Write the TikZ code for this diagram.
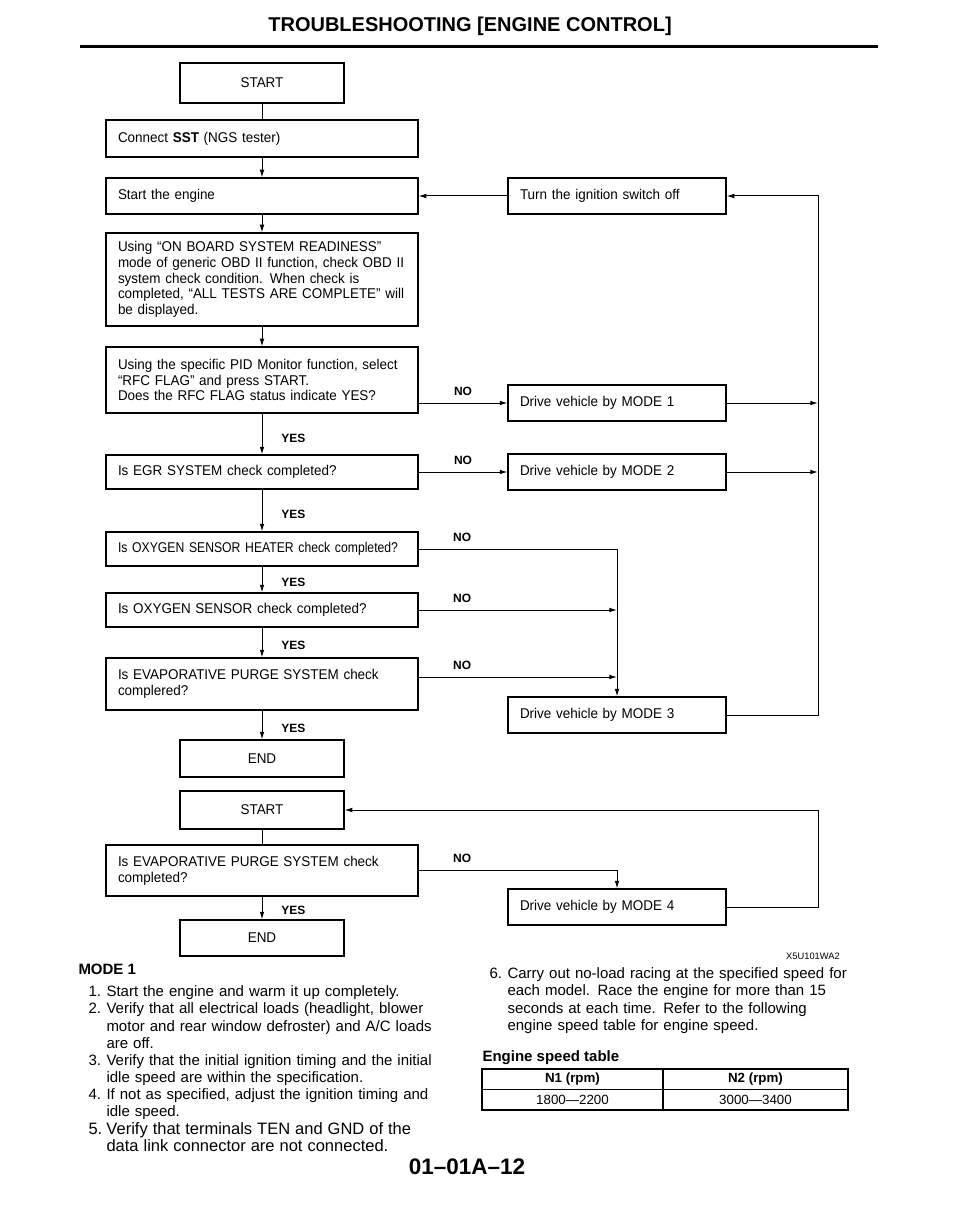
\documentclass[tikz,border=0pt]{standalone}
\usepackage{fontspec}
\setmainfont{Liberation Sans}
\newfontfamily\narrowfont[FakeStretch=0.86]{Liberation Sans}
\newfontfamily\boxfamily[FakeStretch=0.95]{Liberation Sans}
\usetikzlibrary{arrows.meta}

\newcommand{\boxfont}{\boxfamily\fontsize{8.5}{9.4}\selectfont}
\newcommand{\labelfont}{\fontsize{7.2}{8}\selectfont\bfseries}
\newcommand{\notefont}{\fontsize{9}{10.3}\selectfont}
\newcommand{\cellfont}{\fontsize{8}{9}\selectfont}
\newcommand{\hangitem}[2]{\par\noindent\hangindent=10.8pt\hangafter=1\makebox[10.8pt][l]{#1}#2\par}

\begin{document}
\begin{tikzpicture}[
    x=0.6pt, y=-0.6pt,
    line width=0.6pt,
    >={Latex[length=4.6pt,width=2.8pt]},
    box/.style={%
      draw,
      rectangle,
      line width=0.7pt,
      inner xsep=7.2pt,
      inner ysep=2pt,
      font=\boxfont,
      align=left,
    },
    widebox/.style={box, text width=172.8pt, minimum width=187.2pt},
    modebox/.style={box, text width=116.4pt, minimum width=130.8pt, minimum height=21.6pt},
    endbox/.style={box, text width=84pt, minimum width=98.4pt, align=center},
    yeslabel/.style={font=\labelfont, anchor=west, xshift=8pt, pos=0.6},
    nolabel/.style={font=\labelfont, above, yshift=1pt},
    cell/.style={draw, line width=0.7pt, outer sep=0pt, inner sep=0pt, minimum height=12.3pt, font=\cellfont},
  ]
    \useasboundingbox (0,0) rectangle (960,1224);

    \node [font=\fontsize{12}{14}\selectfont\bfseries] (title) at (470,26) {TROUBLESHOOTING [ENGINE CONTROL]};
    \draw [line width=1.8pt] (80,47) -- (878,47);

    \node [endbox, minimum height=24pt] (start) at (262,83) {START};
    \node [widebox, minimum height=22.2pt] (sst) at (262,138.5) {Connect \textbf{SST} (NGS tester)};
    \node [widebox, minimum height=21.6pt] (engine) at (262,196) {Start the engine};
    \node [modebox] (off) at (617,196) {Turn the ignition switch off};
    \node [widebox, minimum height=55.8pt] (obd) at (262,279.5) {Using “ON BOARD SYSTEM READINESS”\\ mode of generic OBD II function, check OBD II\\ system check condition. When check is\\ completed, “ALL TESTS ARE COMPLETE” will\\ be displayed.};
    \node [widebox, minimum height=39.6pt] (pid) at (262,380) {Using the specific PID Monitor function, select\\ “RFC FLAG” and press START.\\ Does the RFC FLAG status indicate YES?};
    \node [modebox] (m1) at (617,403) {Drive vehicle by MODE 1};
    \node [widebox, minimum height=20.4pt] (egr) at (262,472) {Is EGR SYSTEM check completed?};
    \node [modebox] (m2) at (617,472) {Drive vehicle by MODE 2};
    \node [widebox, minimum height=20.4pt, font={\narrowfont\fontsize{8.5}{9.4}\selectfont}] (heater) at (262,549) {Is OXYGEN SENSOR HEATER check completed?};
    \node [widebox, minimum height=20.4pt] (oxy) at (262,610) {Is OXYGEN SENSOR check completed?};
    \node [widebox, minimum height=31.2pt] (evap) at (262,684) {Is EVAPORATIVE PURGE SYSTEM check\\ complered?};
    \node [modebox] (m3) at (617,715) {Drive vehicle by MODE 3};
    \node [endbox, minimum height=22.2pt] (end) at (262,758.5) {END};

    \node [endbox, minimum height=22.8pt] (start2) at (262,810) {START};
    \node [widebox, minimum height=30.6pt] (evap2) at (262,870.5) {Is EVAPORATIVE PURGE SYSTEM check\\ completed?};
    \node [modebox] (m4) at (617,907) {Drive vehicle by MODE 4};
    \node [endbox, minimum height=21.6pt] (end2) at (262,938) {END};

    \coordinate (loop) at (818,196);
    \coordinate (loop2) at (818,810);
    \coordinate (evapno) at ([yshift=4.2pt]evap.east);

    \draw (start) -- (sst);
    \draw [->] (sst) -- (engine);
    \draw [->] (engine) -- (obd);
    \draw [->] (obd) -- (pid);
    \draw [->] (pid) -- node [yeslabel] {YES} (egr);
    \draw [->] (egr) -- node [yeslabel] {YES} (heater);
    \draw [->] (heater) -- node [yeslabel] {YES} (oxy);
    \draw [->] (oxy) -- node [yeslabel] {YES} (evap);
    \draw [->] (evap) -- node [yeslabel] {YES} (end);
    \draw (start2) -- (evap2);
    \draw [->] (evap2) -- node [yeslabel] {YES} (end2);

    \draw [->] (off) -- (engine);
    \draw [->] (pid.east |- m1) -- node [nolabel] {NO} (m1);
    \draw [->] (egr) -- node [nolabel] {NO} (m2);
    \draw [->] (m1) -- (m1 -| loop);
    \draw [->] (m2) -- (m2 -| loop);
    \draw [->] (heater) -| node [nolabel, pos=0.11] {NO} (m3);
    \draw [->] (oxy) -- node [nolabel, pos=0.22] {NO} (m3 |- oxy);
    \draw [->] (evapno) -- node [nolabel, pos=0.22] {NO} (m3 |- evapno);
    \draw [->] (m3) -| (loop) -- (off);
    \draw [->] (evap2) -| node [nolabel, pos=0.11] {NO} (m4);
    \draw [->] (m4) -| (loop2) -- (start2);

    \node [font=\fontsize{5.6}{6}\selectfont] (fig) at (813,956) {X5U101WA2};

    \node [anchor=north west, inner sep=0pt, font=\fontsize{9}{10}\selectfont\bfseries] (mode) at (78,964) {MODE 1};
    \node [anchor=north west, inner sep=0pt, text width=250pt, align=left, font=\notefont] (steps) at (88,979) {%
      \hangitem{1.}{Start the engine and warm it up completely.}
      \hangitem{2.}{Verify that all electrical loads (headlight, blower\newline motor and rear window defroster) and A/C loads\newline are off.}
      \hangitem{3.}{Verify that the initial ignition timing and the initial\newline idle speed are within the specification.}
      \hangitem{4.}{If not as specified, adjust the ignition timing and\newline idle speed.}
      {\fontsize{9.9}{10.3}\selectfont\hangitem{5.}{Verify that terminals TEN and GND of the\newline data link connector are not connected.}}};
    \node [anchor=north west, inner sep=0pt, text width=240pt, align=left, font=\notefont] (step6) at (489,961) {%
      \hangitem{6.}{Carry out no-load racing at the specified speed for\newline each model. Race the engine for more than 15\newline seconds at each time. Refer to the following\newline engine speed table for engine speed.}};

    \node [anchor=west, inner sep=0pt, font=\fontsize{9}{10}\selectfont\bfseries] (tabhead) at (482,1058) {Engine speed table};
    \node [cell, font=\cellfont\bfseries, minimum width=108.6pt, anchor=north west] (n1) at (482,1069) {N1 (rpm)};
    \node [cell, font=\cellfont\bfseries, minimum width=111pt, anchor=north west] (n2) at (n1.north east) {N2 (rpm)};
    \node [cell, minimum width=108.6pt, anchor=north west] (v1) at (n1.south west) {1800—2200};
    \node [cell, minimum width=111pt, anchor=north west] (v2) at (v1.north east) {3000—3400};

    \node [font=\fontsize{13.5}{15}\selectfont\bfseries] (page) at (467,1167) {01–01A–12};
\end{tikzpicture}
\end{document}
